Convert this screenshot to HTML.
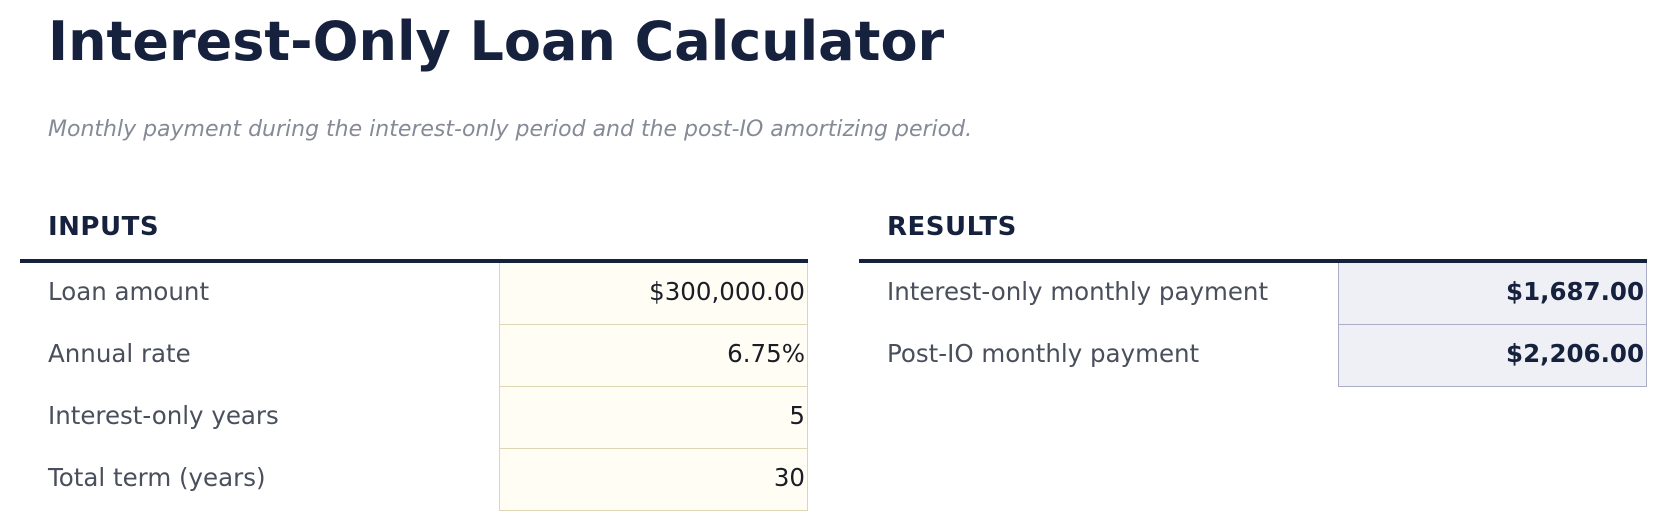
<!DOCTYPE html>
<html><head><meta charset="utf-8"><style>
*{margin:0;padding:0;box-sizing:border-box}
body{width:1668px;height:531px;background:#fff;font-family:"DejaVu Sans","Liberation Sans",sans-serif;position:relative;overflow:hidden}
.t{position:absolute;left:48px;top:10px;font-size:54px;font-weight:bold;color:#16213e;white-space:nowrap}
.s{position:absolute;left:48px;top:117px;font-size:22px;font-style:italic;color:#858a96;white-space:nowrap}
.h{position:absolute;top:212px;font-size:26px;font-weight:bold;color:#16213e;letter-spacing:0.5px}
.tb{position:absolute;top:259px;width:788px;border-top:4px solid #16213e}
.r{display:flex;height:62px}
.l{width:479px;padding-left:28px;font-size:24.5px;color:#4a4f5c;line-height:58px}
.v{width:309px;text-align:right;padding-right:2px;font-size:24.5px;line-height:58px;color:#1a1d26}
.in .v{background:#fffdf4;border:1px solid #dcd6b4;border-top:none}
.res .v{background:#eef0f6;border:1px solid #a9adc6;border-top:none;font-weight:bold;color:#16213e}
</style></head><body>
<div class="t">Interest-Only Loan Calculator</div>
<div class="s">Monthly payment during the interest-only period and the post-IO amortizing period.</div>
<div class="h" style="left:48px">INPUTS</div>
<div class="h" style="left:887px">RESULTS</div>
<div class="tb in" style="left:20px">
<div class="r"><div class="l">Loan amount</div><div class="v">$300,000.00</div></div>
<div class="r"><div class="l">Annual rate</div><div class="v">6.75%</div></div>
<div class="r"><div class="l">Interest-only years</div><div class="v">5</div></div>
<div class="r"><div class="l">Total term (years)</div><div class="v">30</div></div>
</div>
<div class="tb res" style="left:859px">
<div class="r"><div class="l">Interest-only monthly payment</div><div class="v">$1,687.00</div></div>
<div class="r"><div class="l">Post-IO monthly payment</div><div class="v">$2,206.00</div></div>
</div>
</body></html>
